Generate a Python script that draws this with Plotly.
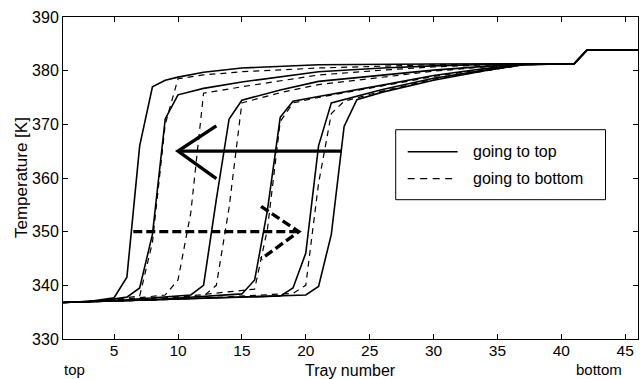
import plotly.graph_objects as go

# ---------------- data ----------------
# "going to top" profiles (solid)
s1_x = [1, 3, 5, 6, 7, 8, 9, 10, 12, 15, 21, 26, 30, 41, 42, 46]
s1_y = [336.8, 337.0, 337.7, 341.5, 366.0, 377.0, 378.2, 378.8, 379.7, 380.5, 381.1, 381.2, 381.25, 381.3, 383.8, 383.9]

s2_x = [1, 4, 6, 7, 8, 9, 10, 12, 15, 21, 26, 30, 34, 41, 42, 46]
s2_y = [336.8, 337.1, 337.8, 339.5, 349.5, 371.0, 375.5, 376.7, 377.9, 379.8, 380.5, 380.9, 381.15, 381.3, 383.8, 383.9]

s3_x = [1, 6, 11, 12, 13, 14, 15, 18, 21, 26, 30, 34, 37, 41, 42, 46]
s3_y = [336.8, 337.3, 338.2, 340.0, 356.0, 371.0, 374.5, 376.4, 378.0, 379.2, 380.1, 380.8, 381.15, 381.3, 383.8, 383.9]

s4_x = [1, 8, 15, 16, 17, 18, 19, 21, 26, 30, 34, 37, 41, 42, 46]
s4_y = [336.8, 337.3, 338.4, 341.0, 354.0, 371.3, 374.3, 375.2, 377.3, 379.1, 380.4, 381.15, 381.3, 383.8, 383.9]

s5_x = [1, 10, 18, 19, 20, 21, 22, 26, 30, 34, 37, 41, 42, 46]
s5_y = [336.8, 337.4, 338.0, 339.5, 346.0, 366.0, 374.0, 376.5, 378.6, 380.1, 381.1, 381.3, 383.8, 383.9]

s6_x = [1, 10, 20, 21, 22, 23, 24, 26, 30, 34, 37, 41, 42, 46]
s6_y = [336.8, 337.4, 338.2, 339.8, 349.5, 369.6, 374.6, 376.0, 378.2, 380.0, 381.1, 381.3, 383.8, 383.9]

# "going to bottom" profiles (dashed)
d1_x = [1, 4, 7, 8, 9, 10, 12, 15, 21, 26, 30, 41, 42, 46]
d1_y = [336.8, 337.1, 338.0, 348.0, 370.0, 378.5, 379.2, 379.8, 380.5, 380.9, 381.1, 381.3, 383.8, 383.9]

d2_x = [1, 5, 9, 10, 11, 12, 15, 21, 26, 30, 34, 41, 42, 46]
d2_y = [336.8, 337.2, 338.2, 341.0, 353.5, 375.8, 377.0, 379.2, 380.1, 380.7, 381.05, 381.3, 383.8, 383.9]

d3_x = [1, 6, 12, 13, 14, 15, 18, 21, 26, 30, 34, 37, 41, 42, 46]
d3_y = [336.8, 337.3, 338.0, 340.0, 354.5, 374.0, 375.9, 377.4, 378.8, 379.9, 380.7, 381.15, 381.3, 383.8, 383.9]

d4_x = [1, 8, 16, 17, 18, 19, 21, 26, 30, 34, 37, 41, 42, 46]
d4_y = [336.8, 337.3, 339.3, 350.5, 370.5, 374.0, 375.0, 377.1, 378.9, 380.3, 381.15, 381.3, 383.8, 383.9]

d5_x = [1, 10, 19, 20, 21, 22, 23, 26, 30, 34, 37, 41, 42, 46]
d5_y = [336.8, 337.4, 338.5, 340.0, 359.0, 372.0, 374.3, 376.2, 378.4, 380.0, 381.1, 381.3, 383.8, 383.9]

# direction arrows (tray, temperature)
arrow_top_x = [22.8, 10.0, None, 13.0, 10.0, 13.0]
arrow_top_y = [365.0, 365.0, None, 369.7, 365.0, 359.9]
arrow_bot_x = [6.5, 19.45, None, 16.5, 19.45, 16.5]
arrow_bot_y = [350.0, 350.0, None, 354.7, 350.0, 344.9]

x_ticks = [5, 10, 15, 20, 25, 30, 35, 40, 45]
y_ticks = [330, 340, 350, 360, 370, 380, 390]
legend_labels = ["going to top", "going to bottom"]

# ---------------- figure ----------------
FONT = "Liberation Sans, Arial, Helvetica, sans-serif"
fig = go.Figure()

solid = [(s1_x, s1_y), (s2_x, s2_y), (s3_x, s3_y), (s4_x, s4_y), (s5_x, s5_y), (s6_x, s6_y)]
dashed = [(d1_x, d1_y), (d2_x, d2_y), (d3_x, d3_y), (d4_x, d4_y), (d5_x, d5_y)]

for xs, ys in solid:
    fig.add_trace(go.Scatter(x=xs, y=ys, mode="lines", name=legend_labels[0],
                             showlegend=False,
                             line=dict(color="black", width=1.6)))
for xs, ys in dashed:
    fig.add_trace(go.Scatter(x=xs, y=ys, mode="lines", name=legend_labels[1],
                             showlegend=False,
                             line=dict(color="black", width=1.2, dash="6px,5px")))

fig.add_trace(go.Scatter(x=arrow_top_x, y=arrow_top_y, mode="lines", showlegend=False,
                         line=dict(color="black", width=3.4)))
fig.add_trace(go.Scatter(x=arrow_bot_x, y=arrow_bot_y, mode="lines", showlegend=False,
                         line=dict(color="black", width=3.4, dash="9px,4px")))

# manual legend box (matches the original layout)
L, R, T, B = 63, 638.5, 17.3, 339.3
W, H = R - L, B - T
px = lambda v: (v - L) / W
py = lambda v: (B - v) / H

fig.add_shape(type="rect", xref="paper", yref="paper",
              x0=px(396), x1=px(606), y0=py(200), y1=py(130),
              line=dict(color="black", width=1), fillcolor="white", layer="above")
fig.add_shape(type="line", xref="paper", yref="paper",
              x0=px(408), x1=px(458), y0=py(152), y1=py(152),
              line=dict(color="black", width=1.4), layer="above")
fig.add_shape(type="line", xref="paper", yref="paper",
              x0=px(408), x1=px(458), y0=py(179), y1=py(179),
              line=dict(color="black", width=1.2, dash="7px,5.5px"), layer="above")
for lbl, yy in zip(legend_labels, [152, 179]):
    fig.add_annotation(xref="paper", yref="paper", x=px(471), y=py(yy),
                       text=lbl, showarrow=False, xanchor="left", yanchor="middle",
                       font=dict(size=16, color="black", family=FONT))

# axis titles and end labels
fig.add_annotation(xref="paper", yref="paper", x=0.5, y=py(370.3), text="Tray number",
                   showarrow=False, xanchor="center", yanchor="middle", borderpad=0,
                   font=dict(size=16, color="black", family=FONT))
fig.add_annotation(xref="paper", yref="paper", x=px(21), y=0.5, text="Temperature [K]",
                   textangle=-90, showarrow=False, xanchor="center", yanchor="middle",
                   font=dict(size=17, color="black", family=FONT))
fig.add_annotation(xref="x", yref="paper", x=1, y=py(369.5), text="top",
                   showarrow=False, xanchor="left", yanchor="middle", borderpad=0,
                   font=dict(size=15, color="black", family=FONT))
fig.add_annotation(xref="paper", yref="paper", x=px(599), y=py(369.5), text="bottom",
                   showarrow=False, xanchor="center", yanchor="middle", borderpad=0,
                   font=dict(size=15, color="black", family=FONT))

axis_common = dict(showline=True, linecolor="black", linewidth=1, mirror="ticks",
                   ticks="inside", ticklen=5, tickcolor="black", tickwidth=1,
                   showgrid=False, zeroline=False)
fig.update_xaxes(range=[1, 46], tickvals=x_ticks, ticktext=[str(v) for v in x_ticks],
                 ticklabelstandoff=-3,
                 tickfont=dict(size=15.5, color="black", family=FONT),
                 **axis_common)
fig.update_yaxes(range=[330, 390], tickvals=y_ticks, ticktext=[str(v) for v in y_ticks],
                 tickfont=dict(size=16, color="black", family=FONT),
                 **axis_common)

fig.update_layout(width=643, height=379, autosize=False,
                  margin=dict(l=63, r=643 - 638.5, t=17.3, b=379 - 339.3, pad=0),
                  paper_bgcolor="white", plot_bgcolor="white",
                  showlegend=False, font=dict(family=FONT, color="black"))

fig.write_html("out.html")
